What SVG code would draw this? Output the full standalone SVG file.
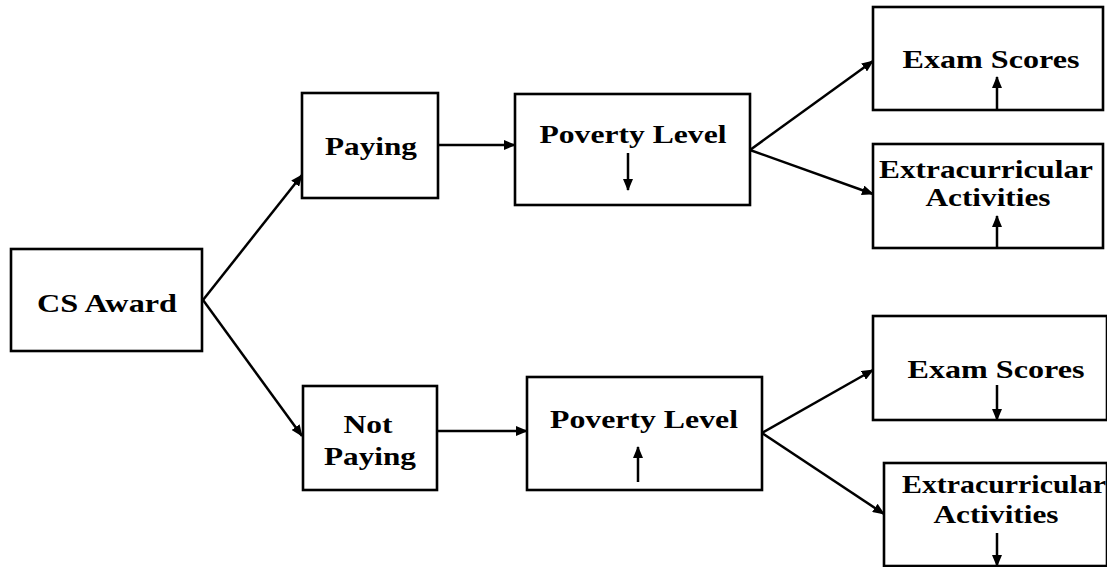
<svg xmlns="http://www.w3.org/2000/svg" width="1107" height="567" viewBox="0 0 1107 567">
<defs>
<marker id="ah" markerUnits="userSpaceOnUse" markerWidth="12" markerHeight="10" refX="11" refY="5" orient="auto">
<path d="M0,0 L12,5 L0,10 z" fill="#000"/>
</marker>
<style>
.box{fill:#fff;stroke:#000;stroke-width:2.6}
.t{font-family:"Liberation Serif","Times New Roman",serif;font-size:26px;font-weight:bold;fill:#000;text-anchor:middle}
.c{stroke:#000;stroke-width:2.5;fill:none;marker-end:url(#ah)}
</style>
</defs>
<rect width="1107" height="567" fill="#fff"/>
<g id="connectors">
<line class="c" x1="203" y1="300" x2="302" y2="175"/>
<line class="c" x1="203" y1="300" x2="302" y2="436"/>
<line class="c" x1="438" y1="145" x2="515" y2="145"/>
<line class="c" x1="750" y1="150" x2="873" y2="61"/>
<line class="c" x1="750" y1="150" x2="873" y2="194"/>
<line class="c" x1="437" y1="431" x2="527" y2="431"/>
<line class="c" x1="762" y1="433" x2="873" y2="370"/>
<line class="c" x1="762" y1="433" x2="884" y2="514"/>
</g>
<g id="cs-award">
<rect class="box" x="11" y="249" width="191" height="102"/>
<text class="t" x="107" y="312" textLength="140" lengthAdjust="spacingAndGlyphs">CS Award</text>
</g>
<g id="paying">
<rect class="box" x="302" y="93" width="136" height="105"/>
<text class="t" x="371" y="155" textLength="92" lengthAdjust="spacingAndGlyphs">Paying</text>
</g>
<g id="poverty-top">
<rect class="box" x="515" y="94" width="235" height="111"/>
<text class="t" x="633" y="143" textLength="187" lengthAdjust="spacingAndGlyphs">Poverty Level</text>
<line class="c" x1="628" y1="153" x2="628" y2="190"/>
</g>
<g id="exam-top">
<rect class="box" x="873" y="7" width="230" height="103"/>
<text class="t" x="991" y="68" textLength="177" lengthAdjust="spacingAndGlyphs">Exam Scores</text>
<line class="c" x1="997" y1="110" x2="997" y2="77"/>
</g>
<g id="extra-top">
<rect class="box" x="873" y="144" width="230" height="104"/>
<text class="t" x="986" y="178" textLength="214" lengthAdjust="spacingAndGlyphs">Extracurricular</text>
<text class="t" x="988" y="206" textLength="125" lengthAdjust="spacingAndGlyphs">Activities</text>
<line class="c" x1="997" y1="248" x2="997" y2="216"/>
</g>
<g id="not-paying">
<rect class="box" x="303" y="386" width="134" height="104"/>
<text class="t" x="368" y="433" textLength="49" lengthAdjust="spacingAndGlyphs">Not</text>
<text class="t" x="370" y="465" textLength="92" lengthAdjust="spacingAndGlyphs">Paying</text>
</g>
<g id="poverty-bottom">
<rect class="box" x="527" y="377" width="235" height="113"/>
<text class="t" x="644" y="428" textLength="188" lengthAdjust="spacingAndGlyphs">Poverty Level</text>
<line class="c" x1="638" y1="482" x2="638" y2="447"/>
</g>
<g id="exam-bottom">
<rect class="box" x="873" y="316" width="234" height="104"/>
<text class="t" x="996" y="378" textLength="177" lengthAdjust="spacingAndGlyphs">Exam Scores</text>
<line class="c" x1="997" y1="385" x2="997" y2="420"/>
</g>
<g id="extra-bottom">
<rect class="box" x="884" y="463" width="223" height="103"/>
<text class="t" x="1004" y="493" textLength="204" lengthAdjust="spacingAndGlyphs">Extracurricular</text>
<text class="t" x="996" y="523" textLength="125" lengthAdjust="spacingAndGlyphs">Activities</text>
<line class="c" x1="997" y1="533" x2="997" y2="566"/>
</g>
</svg>
